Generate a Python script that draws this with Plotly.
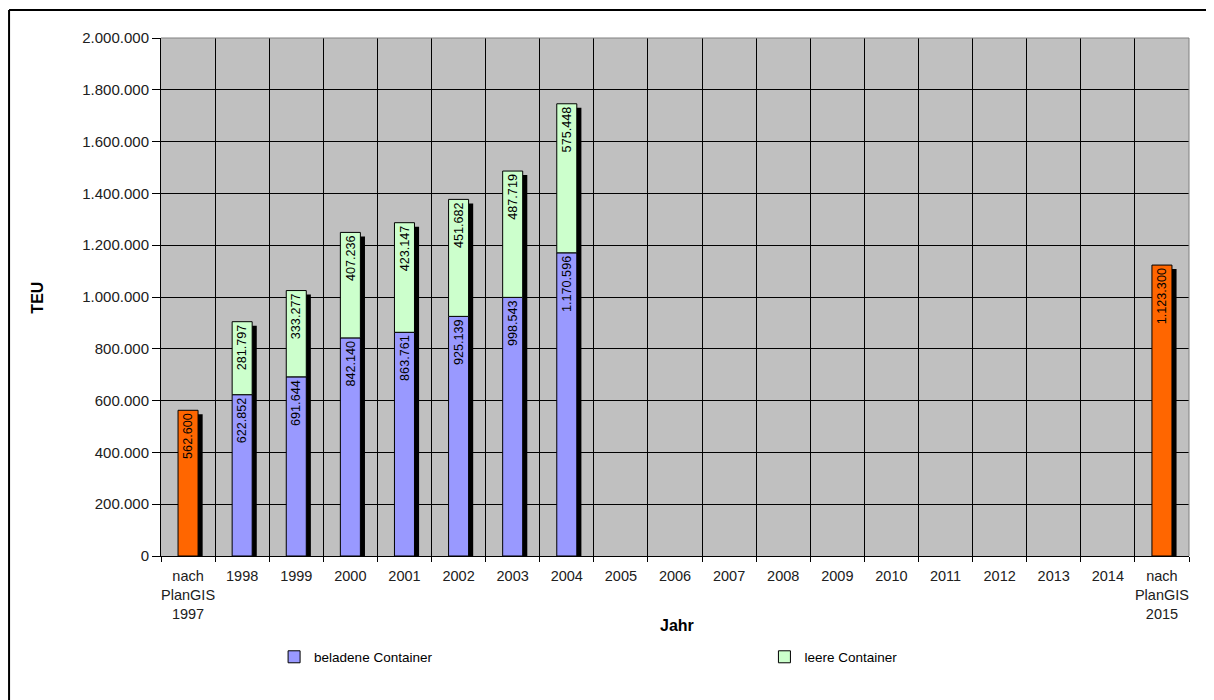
import plotly.graph_objects as go

# Categories (x axis)
categories = ["nach<br>PlanGIS<br>1997"] + [str(y) for y in range(1998, 2015)] + ["nach<br>PlanGIS<br>2015"]

# Series values (TEU)
plangis = [562600] + [None] * 17 + [1123300]
beladene = [None, 622852, 691644, 842140, 863761, 925139, 998543, 1170596] + [None] * 11
leere = [None, 281797, 333277, 407236, 423147, 451682, 487719, 575448] + [None] * 11

y_ticks = [0, 200000, 400000, 600000, 800000, 1000000, 1200000, 1400000, 1600000, 1800000, 2000000]

# totals for the drop shadow behind every column
totals = []
for p, b, l in zip(plangis, beladene, leere):
    t = (p or 0) + (b or 0) + (l or 0)
    totals.append(t if t else None)

bar_w = 0.37
label_font = dict(family="Liberation Sans Narrow, Arial Narrow, Liberation Sans, Arial", size=13.5, color="black")
legend_font = dict(family="Liberation Sans, Arial", size=13.5, color="black")

fig = go.Figure()

# Shadow (drawn first, shifted right and down)
fig.add_trace(go.Bar(
    x=categories, y=totals, base=-15500, width=bar_w, offset=-bar_w / 2 + 0.085,
    marker=dict(color="black", line=dict(width=0)),
    showlegend=False, hoverinfo="skip"
))

fig.add_trace(go.Bar(
    name="nach PlanGIS", x=categories, y=plangis, width=bar_w,
    marker=dict(color="#FF6600", line=dict(color="black", width=1)),
    texttemplate="%{y:,.0f}", textposition="inside", insidetextanchor="end",
    textangle=-90, textfont=label_font, showlegend=False
))

fig.add_trace(go.Bar(
    name="beladene Container", x=categories, y=beladene, width=bar_w,
    marker=dict(color="#9999FF", line=dict(color="black", width=1)),
    texttemplate="%{y:,.0f}", textposition="inside", insidetextanchor="end",
    textangle=-90, textfont=label_font, legend="legend"
))

fig.add_trace(go.Bar(
    name="leere Container", x=categories, y=leere, base=beladene, width=bar_w,
    marker=dict(color="#CCFFCC", line=dict(color="black", width=1)),
    texttemplate="%{y:,.0f}", textposition="inside", insidetextanchor="end",
    textangle=-90, textfont=label_font, legend="legend2"
))

fig.update_layout(
    width=1206, height=692,
    margin=dict(l=153, r=25, t=30, b=144),
    paper_bgcolor="white", plot_bgcolor="#C0C0C0",
    barmode="overlay",
    separators=",.",
    font=dict(family="Liberation Sans, Arial", size=13, color="black"),
    uniformtext=dict(minsize=8),
    legend=dict(
        orientation="h", x=0.11, y=-0.195, xanchor="left", yanchor="middle",
        itemwidth=30, font=legend_font, bgcolor="rgba(0,0,0,0)"
    ),
    legend2=dict(
        orientation="h", x=0.587, y=-0.195, xanchor="left", yanchor="middle",
        itemwidth=30, font=legend_font, bgcolor="rgba(0,0,0,0)"
    ),
    xaxis=dict(
        type="category", tickson="boundaries", showgrid=True, gridcolor="black", gridwidth=1,
        ticks="outside", ticklen=5, tickcolor="black", showline=True, linecolor="black",
        tickangle=0, ticklabelstandoff=7,
        tickfont=dict(size=14.5, color="#202020"), range=[-0.5, 18.5], fixedrange=True
    ),
    yaxis=dict(
        range=[0, 2000000], tickvals=y_ticks, tickformat=",.0f",
        showgrid=True, gridcolor="black", gridwidth=1, zeroline=False,
        ticks="outside", ticklen=8, tickcolor="black", showline=True, linecolor="black",
        tickfont=dict(size=15, color="#202020")
    ),
    annotations=[
        dict(text="<b>TEU</b>", xref="paper", yref="paper", x=-0.121, y=0.498,
             xanchor="center", yanchor="middle",
             textangle=-90, showarrow=False, font=dict(size=16)),
        dict(text="<b>Jahr</b>", xref="paper", yref="paper", x=0.502, y=-0.135,
             xanchor="center", yanchor="middle",
             showarrow=False, font=dict(size=16)),
    ],
    shapes=[
        # chart frame (top and left edges)
        dict(type="line", xref="paper", yref="paper", x0=-0.1478, x1=1.05, y0=1.054, y1=1.054,
             line=dict(color="black", width=2)),
        dict(type="line", xref="paper", yref="paper", x0=-0.1478, x1=-0.1478, y0=1.054, y1=-0.3,
             line=dict(color="black", width=2)),
        # grey plot area border top/right
        dict(type="line", xref="paper", yref="paper", x0=0, x1=1, y0=1, y1=1,
             line=dict(color="#808080", width=1)),
        dict(type="line", xref="paper", yref="paper", x0=1, x1=1, y0=0, y1=1,
             line=dict(color="#808080", width=1)),
    ],
)

fig.write_html("out.html")
